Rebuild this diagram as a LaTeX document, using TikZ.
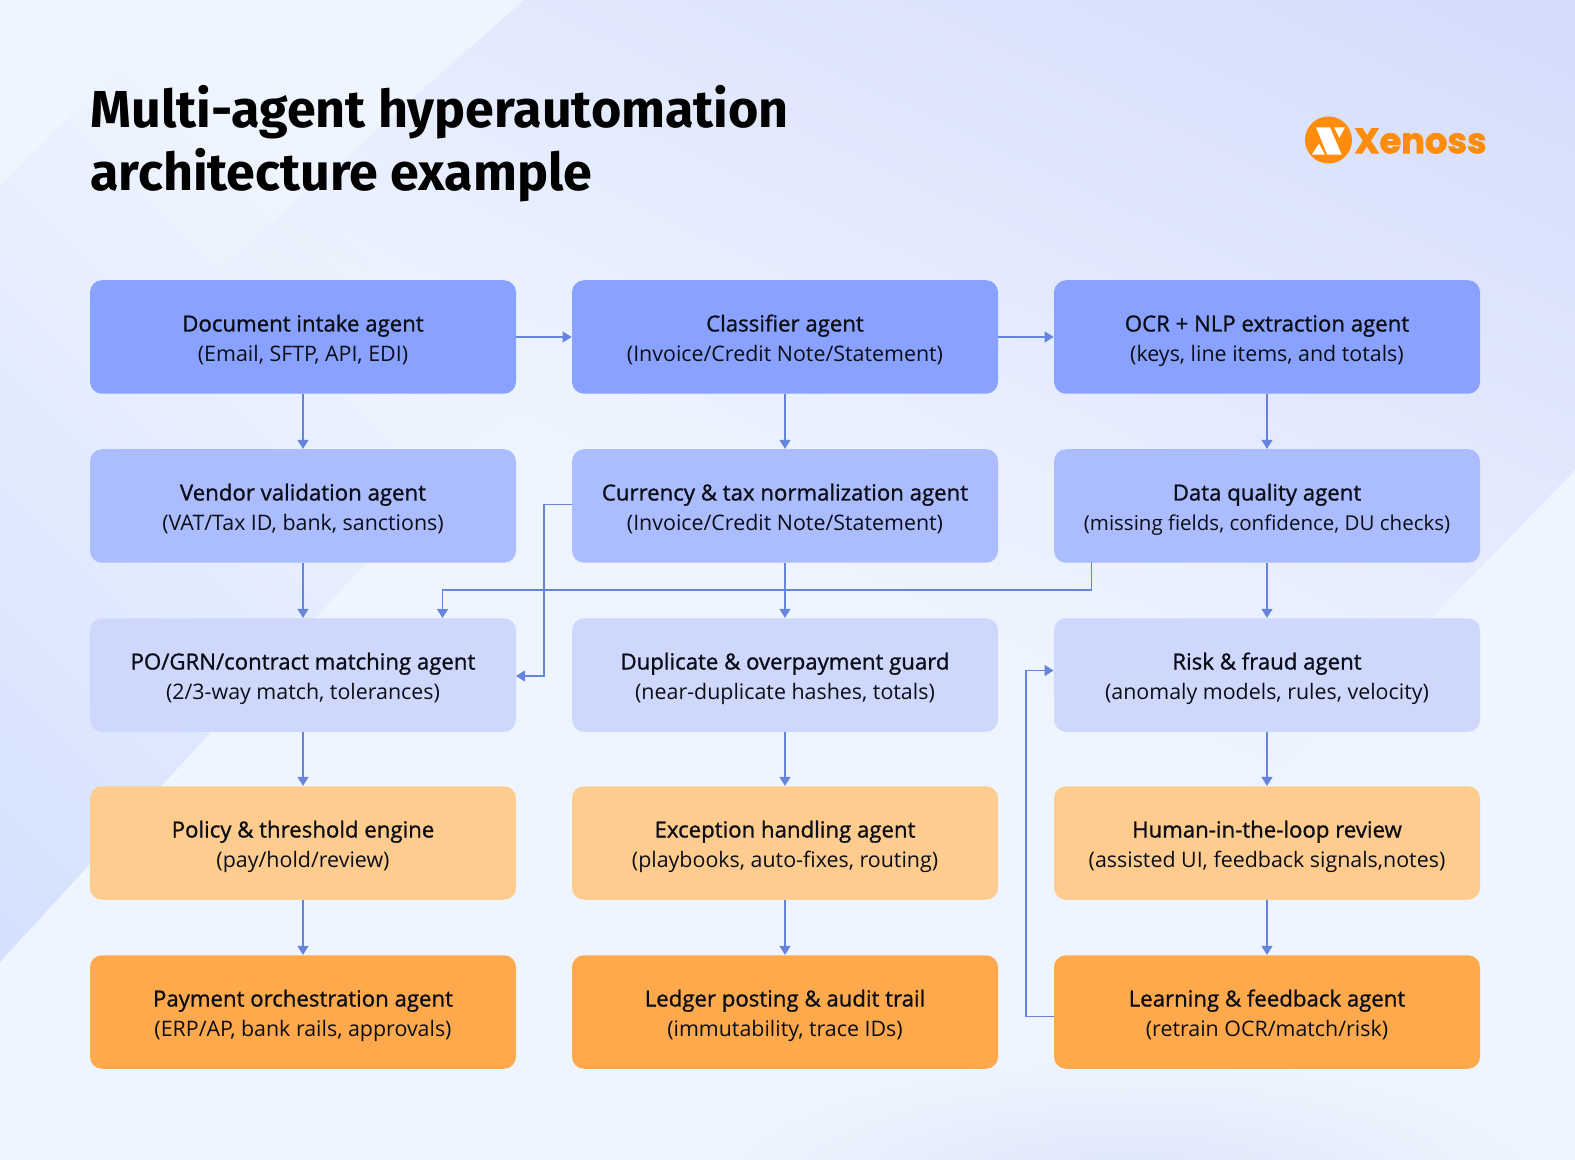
\documentclass[tikz,border=0pt]{standalone}
\usepackage{fontspec}
\usetikzlibrary{arrows.meta,positioning,fadings}
\setmainfont{Open Sans}[BoldFont={Open Sans},BoldFeatures={FakeBold=1.1}]
\newfontfamily\titlefont{Fira Sans}
\newfontfamily\logofont{Poppins}[BoldFeatures={FakeBold=2}]
\definecolor{rowa}{HTML}{8AA2FF}
\definecolor{rowb}{HTML}{ABBCFF}
\definecolor{rowc}{HTML}{CED8FD}
\definecolor{rowd}{HTML}{FFCC90}
\definecolor{rowe}{HTML}{FFA94D}
\definecolor{linkblue}{HTML}{6484DE}
\definecolor{inktext}{HTML}{0B0D17}
\definecolor{xorange}{HTML}{FF8C0A}
\definecolor{basepale}{HTML}{EFF5FF}
\definecolor{wedgeblue}{HTML}{D4E0FD}
\definecolor{cornerblue}{HTML}{D4DCFB}
\definecolor{floorblue}{HTML}{DCE5FA}
\tikzfading[name=fadelong,top color=transparent!0,bottom color=transparent!100]
\tikzfading[name=fadeblob,inner color=transparent!0,outer color=transparent!100]
\tikzset{
  agent/.style={rounded corners=6,minimum width=213pt,minimum height=56.75pt,inner sep=0pt,
    align=center,text=inktext,font=\fontsize{10.7}{15}\selectfont},
  link/.style={draw=linkblue,line width=.75pt,-{Triangle[width=5.5pt,length=4.5pt]}}
}
\newcommand{\agentbox}[5]{%
  \node[agent,fill=#2] (#1) at (#3) {\rule{0pt}{14pt}{\fontsize{11.1}{15}\selectfont\textbf{#4}}\\\rule[-4.5pt]{0pt}{4.5pt}#5};}
\begin{document}
\begin{tikzpicture}[x=.5pt,y=-.5pt]
  \useasboundingbox (0,0) rectangle (1575,1160);
  % background
  \fill[basepale] (0,0) rectangle (1575,1160);
  \begin{scope}
    \clip (0,187) -- (186,0) -- (882,0) -- (0,962) -- cycle;
    \begin{scope}[transform canvas={rotate around={135:(0,962)}}]
      \fill[wedgeblue,path fading=fadelong] (-900,962) rectangle (900,1712);
    \end{scope}
  \end{scope}
  \begin{scope}
    \clip (524,0) -- (1575,0) -- (1575,470) -- (1000,1062) -- (0,1062) -- (0,463) -- cycle;
    \begin{scope}[transform canvas={rotate around={-25:(1575,0)}}]
      \fill[cornerblue,path fading=fadelong] (75,0) rectangle (3075,850);
    \end{scope}
  \end{scope}
  \fill[floorblue,path fading=fadeblob] (1130,1190) ellipse (420 and 130);
  % title and logo
  \node[anchor=north west,inner sep=0pt,align=left,font=\titlefont\bfseries\fontsize{26}{31.5}\selectfont] (title) at (90,85) {Multi-agent hyperautomation\\architecture example};
  \node[circle,fill=xorange,minimum size=23.5pt,inner sep=0pt] (mark) at (1328.5,140) {};
  \fill[white] (1316,127.3) -- (1330,127.3) -- (1341.7,154.7) -- (1327.3,154.7) -- cycle;
  \fill[white] (1334.3,127.3) -- (1345,127.3) -- (1339.3,138) -- cycle;
  \fill[white] (1311.7,154.7) -- (1325,154.7) -- (1319,143.7) -- cycle;
  \node[anchor=west,inner sep=0pt,text=xorange,font=\logofont\bfseries\fontsize{17.6}{18}\selectfont] (brand) at (1354,141) {Xenoss};
  % first column
  \agentbox{intake}{rowa}{303,337}{Document intake agent}{(Email, SFTP, API, EDI)}
  \agentbox{vendor}{rowb}{303,506}{Vendor validation agent}{(VAT/Tax ID, bank, sanctions)}
  \agentbox{match}{rowc}{303,675}{PO/GRN/contract matching agent}{(2/3-way match, tolerances)}
  \agentbox{policy}{rowd}{303,843}{Policy \& threshold engine}{(pay/hold/review)}
  \agentbox{payment}{rowe}{303,1012}{Payment orchestration agent}{(ERP/AP, bank rails, approvals)}
  % second column
  \agentbox{classifier}{rowa}{785,337}{Classifier agent}{(Invoice/Credit Note/Statement)}
  \agentbox{currency}{rowb}{785,506}{Currency \& tax normalization agent}{(Invoice/Credit Note/Statement)}
  \agentbox{guard}{rowc}{785,675}{Duplicate \& overpayment guard}{(near-duplicate hashes, totals)}
  \agentbox{exception}{rowd}{785,843}{Exception handling agent}{(playbooks, auto-fixes, routing)}
  \agentbox{ledger}{rowe}{785,1012}{Ledger posting \& audit trail}{(immutability, trace IDs)}
  % third column
  \agentbox{ocr}{rowa}{1267,337}{OCR + NLP extraction agent}{(keys, line items, and totals)}
  \agentbox{quality}{rowb}{1267,506}{Data quality agent}{\fontsize{10.25}{15}\selectfont (missing fields, confidence, DU checks)}
  \agentbox{risk}{rowc}{1267,675}{Risk \& fraud agent}{(anomaly models, rules, velocity)}
  \agentbox{human}{rowd}{1267,843}{Human-in-the-loop review}{(assisted UI, feedback signals,notes)}
  \agentbox{learning}{rowe}{1267,1012}{Learning \& feedback agent}{(retrain OCR/match/risk)}
  % connectors
  \foreach \a/\b in {intake/vendor,vendor/match,match/policy,policy/payment,
    classifier/currency,currency/guard,guard/exception,exception/ledger,
    ocr/quality,quality/risk,risk/human,human/learning}
    \draw[link] (\a) -- (\b);
  \draw[link] (intake) -- (classifier);
  \draw[link] (classifier) -- (ocr);
  \coordinate (qualitydrop) at (1091.5,562.5);
  \coordinate (matchtop) at (442.5,618);
  \draw[link] (qualitydrop) |- (442.5,590) -- (matchtop);
  \coordinate (currencyleft) at (572,504.5);
  \coordinate (matchright) at (516,676);
  \draw[link] (currencyleft) -- (544,504.5) |- (matchright);
  \coordinate (learningleft) at (1053.5,1016.5);
  \coordinate (riskleft) at (1053.5,670.5);
  \draw[link] (learningleft) -- (1026,1016.5) |- (riskleft);
\end{tikzpicture}
\end{document}
